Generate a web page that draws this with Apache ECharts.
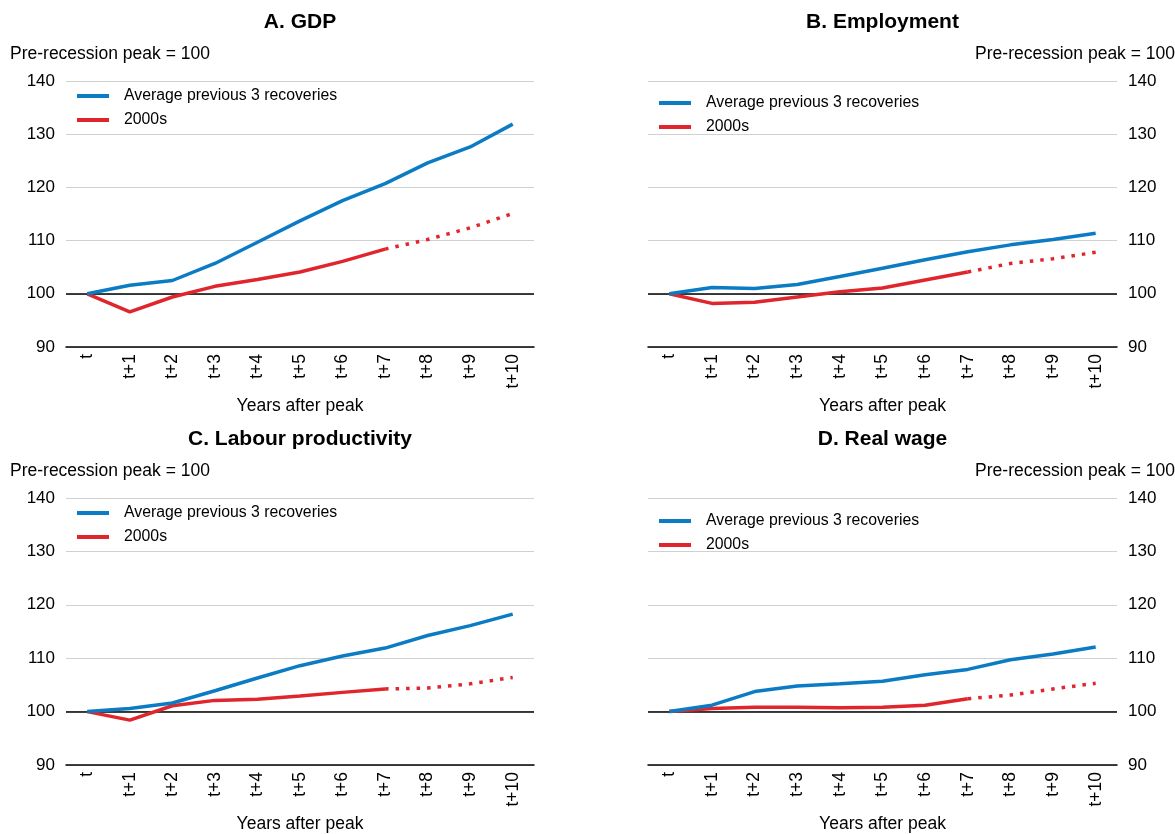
<!DOCTYPE html>
<html>
<head>
<meta charset="utf-8">
<script src="https://cdn.jsdelivr.net/npm/echarts@6/dist/echarts.min.js"></script>
<style>
  html, body { margin: 0; padding: 0; background: #fff; }
  #main { width: 1175px; height: 834px; }
</style>
</head>
<body>
<div id="main"></div>
<script>
var years = ['t', 't+1', 't+2', 't+3', 't+4', 't+5', 't+6', 't+7', 't+8', 't+9', 't+10'];
var yTicks = [90, 100, 110, 120, 130, 140];

var gdpAvg = [100, 101.6, 102.5, 105.7, 109.7, 113.7, 117.5, 120.7, 124.6, 127.6, 131.9];
var gdp2000s = [100, 96.6, 99.4, 101.4, 102.7, 104.1, 106.1, 108.4, 110.2, 112.4, 115.1];
var empAvg = [100, 101.2, 101.0, 101.75, 103.25, 104.8, 106.4, 107.9, 109.2, 110.2, 111.4];
var emp2000s = [100, 98.2, 98.4, 99.4, 100.4, 101.1, 102.6, 104.1, 105.7, 106.6, 107.8];
var prodAvg = [100, 100.6, 101.6, 103.9, 106.3, 108.6, 110.4, 111.9, 114.25, 116.1, 118.25];
var prod2000s = [100, 98.4, 101.1, 102.1, 102.3, 102.9, 103.6, 104.25, 104.4, 105.2, 106.4];
var wageAvg = [100, 101.2, 103.75, 104.8, 105.2, 105.7, 106.9, 107.9, 109.7, 110.8, 112.1];
var wage2000s = [100, 100.6, 100.8, 100.8, 100.7, 100.8, 101.2, 102.4, 103.1, 104.25, 105.3];

// last observed year, after that the 2000s line is a projection (dotted)
var lastActual = 7;

var blue = '#0b7cc4';
var red = '#e0262d';
var font = 'Liberation Sans, Arial, sans-serif';

var panels = [
    { title: 'A. GDP', avg: gdpAvg, recent: gdp2000s, grid: { left: 66, top: 81, width: 468, height: 266 }, side: 'left', legendTop: 87, legendLeft: 77 },
    { title: 'B. Employment', avg: empAvg, recent: emp2000s, grid: { left: 648, top: 81, width: 469, height: 266 }, side: 'right', legendTop: 94, legendLeft: 659 },
    { title: 'C. Labour productivity', avg: prodAvg, recent: prod2000s, grid: { left: 66, top: 498, width: 468, height: 267 }, side: 'left', legendTop: 504, legendLeft: 77 },
    { title: 'D. Real wage', avg: wageAvg, recent: wage2000s, grid: { left: 648, top: 498, width: 469, height: 267 }, side: 'right', legendTop: 512, legendLeft: 659 }
];

var grids = [], xAxes = [], yAxes = [], series = [], legends = [], graphics = [];

panels.forEach(function (p, i) {
    grids.push(p.grid);
    var cx = p.grid.left + p.grid.width / 2;

    graphics.push({
        type: 'text', x: cx, y: p.grid.top - 59,
        style: { text: p.title, font: 'bold 21px ' + font, fill: '#000', textAlign: 'center', textVerticalAlign: 'middle' }
    });
    graphics.push({
        type: 'text',
        x: p.side === 'left' ? 10 : 1175,
        y: p.grid.top - 27,
        style: { text: 'Pre-recession peak = 100', font: '17.5px ' + font, fill: '#000', textAlign: p.side === 'left' ? 'left' : 'right', textVerticalAlign: 'middle' }
    });

    xAxes.push({
        gridIndex: i,
        type: 'category',
        data: years,
        boundaryGap: true,
        axisLine: { lineStyle: { color: '#000', width: 1.5 } },
        axisTick: { alignWithLabel: true, inside: true, length: 4, lineStyle: { color: '#000' } },
        axisLabel: { rotate: 90, fontSize: 17.5, color: '#000', fontFamily: font, margin: 7, interval: 0 },
        name: 'Years after peak',
        nameLocation: 'middle',
        nameGap: 50,
        nameTextStyle: { fontSize: 17.5, color: '#000', fontFamily: font },
        splitLine: { show: false }
    });

    yAxes.push({
        gridIndex: i,
        type: 'value',
        position: p.side,
        min: yTicks[0],
        max: yTicks[yTicks.length - 1],
        interval: yTicks[1] - yTicks[0],
        axisLine: { show: false },
        axisTick: { show: false },
        axisLabel: { fontSize: 17, color: '#000', fontFamily: font, margin: 11 },
        splitLine: { lineStyle: { color: '#d0d0d0', width: 1.2 } }
    });

    var solid = p.recent.map(function (v, k) { return k <= lastActual ? v : null; });
    var dotted = p.recent.map(function (v, k) { return k >= lastActual ? v : null; });

    series.push({
        name: 'Average previous 3 recoveries',
        type: 'line',
        xAxisIndex: i, yAxisIndex: i,
        data: p.avg,
        symbol: 'none',
        lineStyle: { color: blue, width: 3.5 },
        itemStyle: { color: blue },
        z: 3,
        markLine: {
            silent: true,
            symbol: 'none',
            label: { show: false },
            lineStyle: { color: '#000', width: 1.5, type: 'solid' },
            data: [{ yAxis: 100 }],
            z: 1
        }
    });
    series.push({
        name: '2000s',
        type: 'line',
        xAxisIndex: i, yAxisIndex: i,
        data: solid,
        symbol: 'none',
        lineStyle: { color: red, width: 3.5 },
        itemStyle: { color: red },
        z: 2
    });
    series.push({
        name: '2000s projection',
        type: 'line',
        xAxisIndex: i, yAxisIndex: i,
        data: dotted,
        symbol: 'none',
        lineStyle: { color: red, width: 3.5, type: [3.5, 7], cap: 'butt' },
        itemStyle: { color: red },
        z: 2
    });

    legends.push({
        data: ['Average previous 3 recoveries', '2000s'],
        orient: 'vertical',
        left: p.legendLeft,
        top: p.legendTop,
        padding: 0,
        itemGap: 6,
        itemWidth: 32,
        itemHeight: 4,
        icon: 'rect',
        selectedMode: false,
        textStyle: { fontSize: 15.8, color: '#000', fontFamily: font, lineHeight: 18, padding: [0, 0, 0, 10] }
    });
});

var myChart = echarts.init(document.getElementById('main'));
myChart.setOption({
    backgroundColor: '#fff',
    animation: false,
    grid: grids,
    xAxis: xAxes,
    yAxis: yAxes,
    legend: legends,
    series: series,
    graphic: graphics
});
</script>
</body>
</html>
